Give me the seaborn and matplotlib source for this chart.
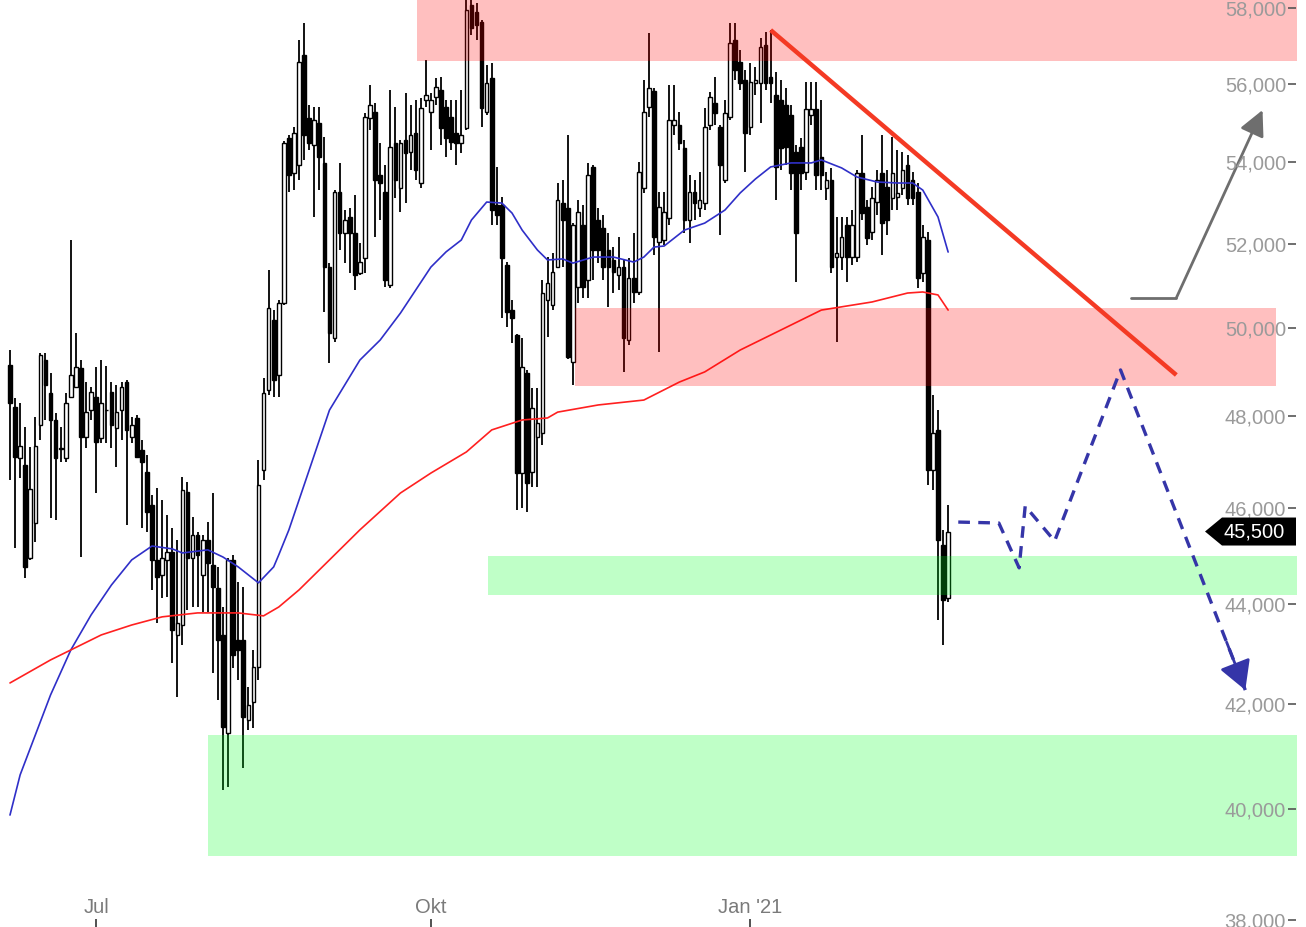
import numpy as np
import pandas as pd
import matplotlib
matplotlib.use('Agg')
import matplotlib.pyplot as plt
import matplotlib.ticker as mticker
import seaborn as sns

open_ = [49150, 48205, 47080, 46925, 44945, 45680, 47805, 49265, 48520, 47915,
         47300, 47080, 48430, 48655, 49085, 47540, 48135, 48430, 47515, 48140,
         48540, 47735, 48135, 48765, 47540, 47960, 47255, 46775, 46065, 44905,
         44595, 44905, 45070, 43370, 43570, 46340, 44945, 45430, 44595, 45325,
         44800, 44325, 43370, 41445, 44905, 43270, 43270, 41695, 42045, 42730,
         46815, 48585, 50190, 48925, 50585, 54610, 53730, 53930, 56750, 55115,
         54430, 54990, 53980, 51435, 49770, 53260, 52255, 52645, 52255, 51295,
         51650, 55115, 55270, 53680, 53260, 51010, 54480, 53355, 54555, 54255,
         54735, 53480, 55580, 55270, 55655, 55835, 55400, 55140, 54735, 54480,
         54860, 58080, 57890, 57625, 55270, 56145, 52935, 52935, 51485, 50420,
         49840, 46750, 48970, 46775, 47540, 47625, 50655, 50540, 51435, 52985,
         52865, 49220, 50965, 52450, 51130, 53880, 52570, 52375, 51845, 51605,
         51245, 51435, 49725, 51175, 50845, 53355, 55400, 55810, 52035, 52085,
         52620, 54940, 54940, 54355, 52570, 53260, 52865, 52985, 54940, 55500,
         54885, 53555, 55140, 57145, 56565, 56095, 54885, 56015, 56015, 57015,
         56175, 55705, 55580, 55450, 55195, 54255, 54380, 53755, 55195, 55345,
         54130, 53355, 53555, 51675, 51675, 52450, 51675, 51675, 53730, 52890,
         52280, 53010, 53730, 53380, 53110, 53135, 53355, 53930, 53555, 53260,
         51295, 52085, 46815, 47695, 45220, 44120]
high = [49495, 48405, 48295, 47760, 47320, 47980, 49425, 49425, 48970, 48070,
        47760, 48520, 52085, 49885, 49265, 48765, 48655, 49105, 49265, 49130,
        48765, 48700, 48765, 48810, 47980, 48025, 47475, 47145, 46280, 46430,
        46170, 45850, 45575, 45325, 46665, 46560, 45810, 45490, 45430, 45705,
        46320, 44760, 43935, 44945, 45010, 44450, 44345, 42335, 43070, 47035,
        48855, 51365, 50420, 50655, 54530, 54685, 54885, 57145, 57600, 55450,
        55400, 55400, 54635, 51530, 53305, 53980, 52815, 52865, 53185, 52010,
        55245, 55965, 55500, 54480, 53930, 55835, 55400, 54555, 55760, 55450,
        55580, 55630, 56620, 55760, 56145, 56175, 55580, 55580, 55580, 55835,
        58400, 58300, 58135, 57680, 56485, 56540, 53880, 53135, 51555, 50655,
        49860, 49770, 49040, 48630, 48630, 51130, 51675, 51770, 53480, 53555,
        54685, 52495, 53060, 52935, 53980, 53930, 52865, 52690, 52255, 51915,
        52160, 51605, 51650, 52255, 54005, 56095, 57330, 55885, 53260, 53260,
        55965, 55965, 55270, 54555, 53680, 53555, 53755, 55370, 55785, 56175,
        54940, 55580, 57600, 57600, 56880, 56355, 56540, 56435, 57200, 57355,
        57410, 56305, 56095, 55885, 55450, 54430, 54610, 56045, 56045, 56045,
        55580, 53755, 53855, 52645, 52645, 52645, 52815, 53805, 54685, 53060,
        53380, 53805, 54685, 53805, 54635, 54305, 54255, 54180, 53755, 53480,
        52450, 52280, 48475, 48135, 45535, 46065]
low = [46600, 45155, 46645, 44530, 44900, 45280, 47475, 47915, 45785, 45745,
       46990, 46990, 48400, 48630, 44965, 47295, 47915, 46320, 47405, 47405,
       47295, 46880, 47475, 45640, 47405, 47080, 45575, 45490, 44285, 43610,
       44120, 44140, 42810, 42140, 43170, 43875, 43935, 43935, 43835, 43835,
       42615, 42085, 40360, 40420, 42710, 42475, 40775, 41500, 41540, 42475,
       46600, 48475, 48430, 48430, 50540, 53260, 53305, 53555, 54055, 54305,
       52645, 53305, 50375, 49200, 49680, 51845, 51530, 51295, 50890, 51245,
       51295, 54810, 52160, 52570, 50965, 50940, 53110, 52765, 52985, 53805,
       53555, 53355, 55400, 54305, 55450, 54430, 54130, 54305, 53930, 54230,
       54800, 57280, 57145, 54885, 55195, 52450, 52450, 50235, 50025, 49655,
       45955, 46000, 45915, 46450, 46450, 47365, 49795, 50420, 51410, 51435,
       49290, 48700, 50585, 50705, 50705, 51130, 51530, 51130, 50490, 50820,
       50890, 48995, 49610, 50585, 50775, 53235, 55140, 51725, 49450, 51965,
       52450, 54685, 54305, 52255, 52010, 52570, 52645, 52815, 54810, 54940,
       52205, 53480, 55065, 56095, 55835, 53755, 54685, 55705, 54990, 55835,
       55500, 53060, 53805, 53930, 53305, 51080, 53305, 53555, 54940, 53305,
       53305, 53060, 51295, 49680, 51365, 51080, 51485, 51555, 52570, 51965,
       52085, 52690, 51725, 52205, 52815, 52815, 53185, 52935, 52935, 50940,
       51080, 46495, 46385, 43670, 43170, 44040]
close = [48295, 47100, 47340, 44760, 46405, 47340, 49380, 48700, 47915, 47080,
         47275, 48295, 48925, 49105, 47540, 48090, 48540, 47430, 48295, 48130,
         47805, 48090, 48655, 47695, 47805, 47100, 46990, 45915, 44905, 44550,
         44945, 45070, 43470, 43610, 46385, 44945, 45430, 45010, 45325, 44840,
         44345, 43270, 41560, 44905, 42970, 43070, 41750, 41985, 42730, 46495,
         48520, 50470, 48810, 50585, 54480, 53680, 54735, 56565, 54685, 54480,
         55065, 54130, 51435, 49885, 53260, 52255, 52570, 52255, 51245, 51555,
         55140, 55450, 53555, 53480, 51130, 54380, 53555, 54480, 54230, 54685,
         53805, 55370, 55705, 55580, 55915, 54860, 54610, 54505, 54480, 54685,
         57945, 57465, 57545, 55370, 56015, 52815, 52690, 51650, 50375, 50235,
         46750, 49105, 46535, 48180, 47850, 50820, 51055, 51320, 53060, 52570,
         49335, 52450, 52765, 50965, 53680, 51845, 51845, 51435, 51435, 51320,
         51435, 49770, 51175, 50845, 53755, 55270, 55885, 52160, 52890, 52765,
         55065, 55065, 54480, 52570, 53260, 52985, 53060, 54885, 55655, 55245,
         53930, 55245, 57065, 56355, 56015, 54735, 56045, 56095, 56960, 56015,
         56015, 53880, 54355, 54380, 53730, 52255, 53730, 55345, 55345, 53680,
         53680, 53555, 51435, 51770, 52160, 51675, 52450, 53730, 52740, 52135,
         53110, 53555, 52495, 52570, 53730, 53235, 53805, 53110, 53110, 51175,
         52160, 46815, 47625, 45325, 44080, 45500]

sma50_idx = [0, 2, 5, 8, 12, 16, 20, 24, 28, 32, 34, 39, 42, 45, 49, 52, 53, 55,
             59, 63, 69, 73, 77, 83, 86, 89, 91, 94, 97, 99, 101, 104, 106, 109, 111,
             115, 119, 123, 125, 127, 129, 133, 137, 141, 144, 147, 150, 154, 158,
             160, 164, 167, 171, 175, 178, 180, 183, 185]
sma50_val = [39895, 40645, 41405, 42180, 43070, 43775, 44385, 44905, 45195, 45135,
             45050, 45115, 44965, 44760, 44430, 44760, 45010, 45535, 46815, 48135,
             49265, 49725, 50350, 51435, 51800, 52085, 52570, 53010, 52985, 52740, 52325,
             51845, 51605, 51630, 51530, 51675, 51675, 51555, 51675, 51915, 51940,
             52325, 52495, 52815, 53235, 53580, 53880, 53980, 53980, 54055, 53855,
             53630, 53505, 53480, 53480, 53305, 52645, 51795]
sma200_idx = [0, 8, 18, 24, 30, 37, 45, 50, 53, 57, 63, 69, 77, 83, 90, 95, 101,
              106, 108, 116, 125, 132, 137, 144, 152, 160, 170, 177, 180, 183, 185]
sma200_val = [42415, 42870, 43370, 43570, 43735, 43815, 43815, 43755, 43935, 44285,
              44905, 45535, 46320, 46750, 47210, 47695, 47915, 47960, 48090, 48250,
              48360, 48765, 48995, 49495, 49955, 50420, 50610, 50820, 50845, 50775,
              50420]

# Zonen (Widerstand rot / Unterstuetzung gruen)
zone_start = [80.3, 111.4, 94.3, 39.0]
zone_end = [256, 249.7, 256, 256]
zone_low = [56590, 48680, 44180, 39150]
zone_high = [58600, 50475, 44990, 41400]
zone_color = ['#ff0000', '#ff0000', '#00ff20', '#00ff20']

# Abwaertstrend und Szenarien
trend_x = [150, 230]
trend_y = [57410, 48925]
bull_x = [221, 230, 247]
bull_y = [50705, 50705, 55320]
bear_x = [187, 195, 199, 200.2, 206, 219, 243.6]
bear_y = [45700, 45680, 44740, 46040, 45300, 49040, 42275]
last_price = 45500

y_ticks = list(range(38000, 58001, 2000))
tick_months = [(2020, 7), (2020, 10), (2021, 1)]
tick_labels = ['Jul', 'Okt', "Jan '21"]

sns.set_theme(style='white')
plt.rcParams['font.family'] = ['Liberation Sans', 'DejaVu Sans']

df = pd.DataFrame({'open': open_, 'high': high, 'low': low, 'close': close})
df['x'] = np.arange(len(df))
df['date'] = pd.bdate_range('2020-06-08', periods=len(df), freq='C',
                            holidays=['2020-12-24', '2020-12-25', '2020-12-31', '2021-01-01'])
up = df['close'] >= df['open']

y_min, y_max = 37877, 58216

fig = plt.figure(figsize=(13.06, 9.27), dpi=100)
ax = fig.add_axes([0, 0, 1296 / 1306, 1])
ax.set_yscale('log')

# Kerzen
ax.vlines(df['x'], df['low'], df['high'], color='black', lw=1.3, zorder=2)
body_lo = df[['open', 'close']].min(axis=1)
body_hi = df[['open', 'close']].max(axis=1)
ax.bar(df['x'], body_hi - body_lo, bottom=body_lo, width=0.72,
       color=np.where(up, 'white', 'black'), edgecolor='black', linewidth=1.0, zorder=3)

# Durchschnitte
sns.lineplot(x=sma50_idx, y=sma50_val, ax=ax, color='#2f2fc8', lw=1.2, zorder=4)
sns.lineplot(x=sma200_idx, y=sma200_val, ax=ax, color='#ff2020', lw=1.2, zorder=4)

for x0, x1, lo, hi, c in zip(zone_start, zone_end, zone_low, zone_high, zone_color):
    ax.fill_between([x0, x1], [lo, lo], [hi, hi], color=c, alpha=0.25, lw=0, zorder=5)

ax.plot(trend_x, trend_y, color='#f43a24', lw=3.2, solid_capstyle='butt', zorder=6)

# Szenario hoch
ax.plot(bull_x[:2], bull_y[:2], color='#6e6e6e', lw=2.0, zorder=6)
ax.annotate('', xy=(bull_x[2], bull_y[2]), xytext=(bull_x[1], bull_y[1]),
            arrowprops=dict(arrowstyle='-|>,head_length=0.7,head_width=0.35',
                            color='#6e6e6e', lw=2.0, mutation_scale=22,
                            shrinkA=0, shrinkB=0), zorder=6)

# Szenario runter
ax.plot(bear_x, bear_y, color='#3535a8', lw=2.4, dashes=(3.5, 2.5), zorder=6)
f = 0.85
xt = bear_x[-2] + f * (bear_x[-1] - bear_x[-2])
yt = np.exp(np.log(bear_y[-2]) + f * (np.log(bear_y[-1]) - np.log(bear_y[-2])))
ax.annotate('', xy=(bear_x[-1], bear_y[-1]), xytext=(xt, yt),
            arrowprops=dict(arrowstyle='-|>,head_length=0.8,head_width=0.45',
                            color='#3535a8', lw=2.0, mutation_scale=22,
                            shrinkA=0, shrinkB=0), zorder=6)

# Kursmarke als Fähnchen am rechten Rand
k = np.exp(14 * np.log(y_max / y_min) / 927)
ytr = ax.get_yaxis_transform()
ax.fill([0.9298, 0.9429, 1.0, 1.0, 0.9429],
        [last_price, last_price * k, last_price * k, last_price / k, last_price / k],
        transform=ytr, color='black', lw=0, zorder=8, clip_on=False)
ax.text(0.9915, last_price, f'{last_price:,}', transform=ytr,
        ha='right', va='center', color='white', fontsize=14.5, zorder=9)

ax.set_xlim(-1.97, 253.6)
ax.set_ylim(y_min, y_max)

ax.yaxis.set_major_locator(mticker.FixedLocator(y_ticks))
ax.yaxis.set_major_formatter(mticker.FuncFormatter(lambda v, p: f'{v:,.0f}'))
ax.yaxis.set_minor_locator(mticker.NullLocator())
ax.tick_params(axis='y', which='major', left=False, labelleft=False, right=True,
               labelright=True, direction='in', length=6, width=1.2, color='#555555',
               pad=-7.2, labelsize=14.5, labelcolor='#9a9a9a')
for lbl in ax.get_yticklabels():
    lbl.set_horizontalalignment('right')
ax.yaxis.set_zorder(7)

tick_pos = [int(df.index[(df['date'].dt.year == y) & (df['date'].dt.month == m)][0])
            for y, m in tick_months]
ax.set_xticks(tick_pos)
ax.set_xticklabels(tick_labels)
ax.tick_params(axis='x', direction='in', length=6, width=1.2, color='#333333',
               pad=-7.2, labelsize=14.5, labelcolor='#7a7a7a', bottom=True)
for lbl in ax.get_xticklabels():
    lbl.set_verticalalignment('bottom')

for s in ax.spines.values():
    s.set_visible(False)
ax.set_xlabel('')
ax.set_ylabel('')

fig.savefig('out.png', dpi=100)
